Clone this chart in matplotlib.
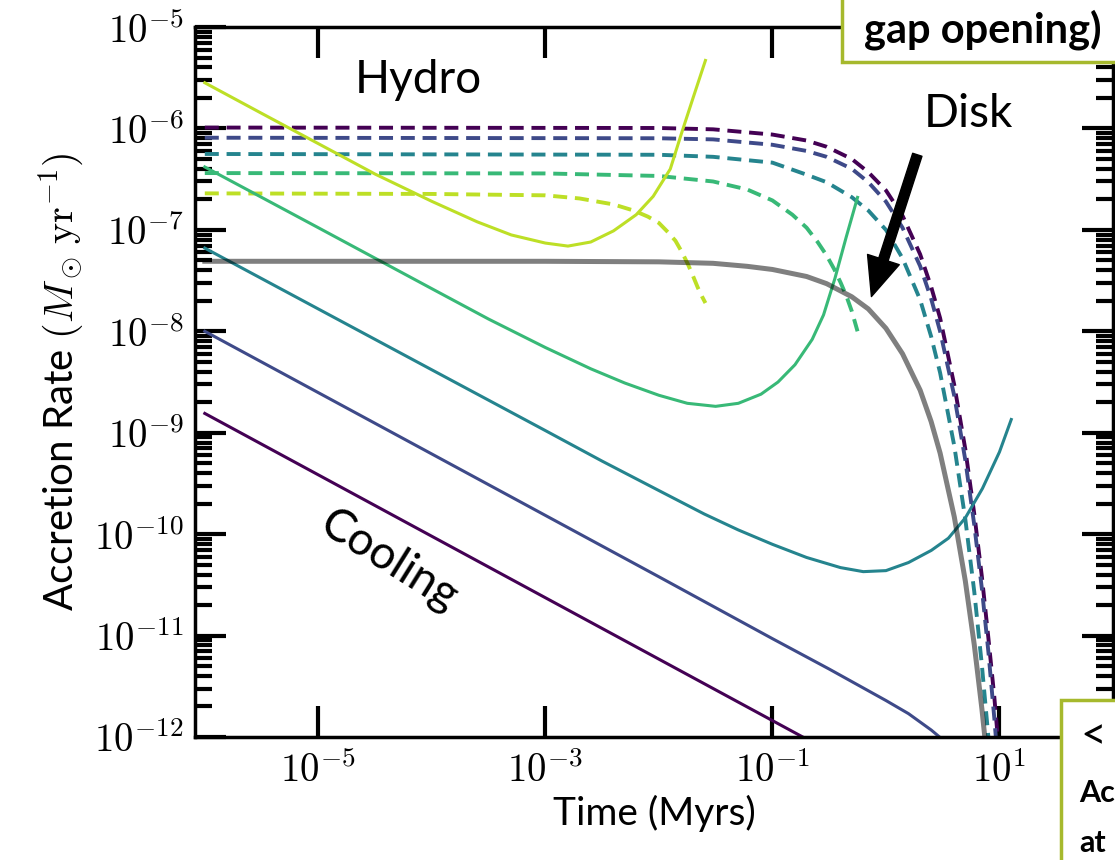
import numpy as np
import matplotlib
matplotlib.use('Agg')
import matplotlib.pyplot as plt
from matplotlib.patches import Rectangle
from matplotlib.ticker import FixedLocator, FuncFormatter, LogLocator, NullLocator

plt.rcParams['font.family'] = ['Lato', 'DejaVu Sans']
plt.rcParams['mathtext.fontset'] = 'cm'

# Solid curves (cooling / hydro limited), time in Myr, rate in Msun/yr
t_purple = [1e-6, 1.0]
m_purple = [1.55e-9, 3.6e-13]

t_blue = [1e-6, 1e-4, 1e-2, 0.1, 0.316, 1.0, 1.58, 2.51, 3.98]
m_blue = [1.0e-8, 6.17e-10, 3.8e-11, 9.33e-12, 4.68e-12, 2.29e-12, 1.70e-12, 1.17e-12, 7.59e-13]

t_teal = [1e-6, 1e-5, 1e-4, 1e-3, 3.16e-3, 1e-2, 2.51e-2, 5.01e-2, 0.1, 0.2, 0.398, 0.631, 1.0, 1.58,
          2.51, 3.55, 5.01, 7.08, 10.0, 12.7]
m_teal = [6.61e-8, 1.66e-8, 4.17e-9, 1.05e-9, 5.25e-10, 2.69e-10, 1.58e-10, 1.10e-10, 7.94e-11, 5.89e-11,
          4.68e-11, 4.27e-11, 4.37e-11, 5.25e-11, 6.92e-11, 9.12e-11, 1.45e-10, 2.82e-10, 6.46e-10, 1.35e-9]

t_green = [1e-6, 1e-5, 1e-4, 3.16e-4, 1e-3, 2.51e-3, 5.01e-3, 1e-2, 1.78e-2, 3.16e-2, 5.01e-2, 7.94e-2,
           0.112, 0.158, 0.224, 0.282, 0.355, 0.447, 0.562]
m_green = [4.17e-7, 1.05e-7, 2.63e-8, 1.32e-8, 6.92e-9, 4.27e-9, 3.09e-9, 2.34e-9, 1.95e-9, 1.82e-9,
           1.95e-9, 2.40e-9, 3.16e-9, 4.68e-9, 8.32e-9, 1.45e-8, 3.31e-8, 8.51e-8, 2.09e-7]

t_yellow = [1e-6, 3.16e-6, 1e-5, 3.16e-5, 1e-4, 2.51e-4, 5.01e-4, 1e-3, 1.58e-3, 2.51e-3, 3.98e-3,
            6.31e-3, 8.91e-3, 1.26e-2, 1.58e-2, 2.0e-2, 2.57e-2]
m_yellow = [2.82e-6, 1.41e-6, 7.08e-7, 3.55e-7, 1.91e-7, 1.20e-7, 8.91e-8, 7.41e-8, 6.92e-8, 7.59e-8,
            9.77e-8, 1.41e-7, 2.14e-7, 3.98e-7, 8.91e-7, 2.0e-6, 4.68e-6]

# Dashed curves (disk limited)
td_purple = [1e-6, 0.01, 0.03, 0.1, 0.2, 0.3, 0.5, 0.7, 1.0, 1.4, 2.0, 2.5, 3.0, 4.0, 5.0, 6.0, 7.0,
             8.0, 9.0, 10.0, 11.0]
md_purple = [1.02e-6, 1.01e-6, 9.8e-7, 8.7e-7, 7.6e-7, 6.6e-7, 5.0e-7, 3.7e-7, 2.45e-7, 1.38e-7, 5.75e-8,
             2.75e-8, 1.35e-8, 2.95e-9, 6.9e-10, 1.58e-10, 3.8e-11, 9.3e-12, 2.5e-12, 6.3e-13, 1.6e-13]

td_blue = [1e-6, 0.01, 0.03, 0.1, 0.2, 0.3, 0.5, 0.7, 1.0, 1.4, 2.0, 2.5, 3.0, 4.0, 5.0, 6.0, 7.0,
           8.0, 9.0, 10.0]
md_blue = [8.1e-7, 8.0e-7, 7.8e-7, 6.9e-7, 6.0e-7, 5.25e-7, 4.0e-7, 2.95e-7, 1.9e-7, 1.05e-7, 4.4e-8,
           2.1e-8, 1.0e-8, 2.3e-9, 5.4e-10, 1.23e-10, 2.9e-11, 6.8e-12, 1.55e-12, 3.6e-13]

td_teal = [1e-6, 0.01, 0.03, 0.1, 0.2, 0.3, 0.5, 0.7, 1.0, 1.4, 2.0, 2.5, 3.0, 4.0, 5.0, 6.0, 7.0,
           8.0, 9.0]
md_teal = [5.6e-7, 5.5e-7, 5.25e-7, 4.6e-7, 3.5e-7, 2.95e-7, 2.1e-7, 1.55e-7, 1.0e-7, 5.25e-8, 2.05e-8,
           8.9e-9, 3.9e-9, 7.4e-10, 1.41e-10, 2.7e-11, 5.1e-12, 9.8e-13, 1.86e-13]

td_green = [1e-6, 1e-3, 0.01, 0.03, 0.06, 0.1, 0.15, 0.2, 0.25, 0.3, 0.35, 0.4, 0.45, 0.5, 0.562]
md_green = [3.63e-7, 3.6e-7, 3.4e-7, 3.0e-7, 2.5e-7, 1.95e-7, 1.41e-7, 1.05e-7, 7.6e-8, 5.6e-8, 4.1e-8,
            3.0e-8, 2.2e-8, 1.58e-8, 1.0e-8]

td_yellow = [1e-6, 1e-4, 1e-3, 2e-3, 4e-3, 6e-3, 8e-3, 1.0e-2, 1.2e-2, 1.4e-2, 1.6e-2, 1.8e-2, 2.0e-2,
             2.2e-2, 2.4e-2, 2.57e-2]
md_yellow = [2.29e-7, 2.26e-7, 2.19e-7, 2.04e-7, 1.78e-7, 1.55e-7, 1.35e-7, 1.17e-7, 9.5e-8, 7.8e-8,
             6.0e-8, 4.6e-8, 3.5e-8, 2.7e-8, 2.2e-8, 1.9e-8]

# Grey reference curve
t_grey = [1e-6, 1e-3, 0.01, 0.03, 0.06, 0.1, 0.2, 0.3, 0.5, 0.7, 1.0, 1.4, 2.0, 2.5, 3.0, 4.0, 5.0,
          6.0, 7.0, 8.0]
m_grey = [4.9e-8, 4.9e-8, 4.84e-8, 4.68e-8, 4.37e-8, 4.07e-8, 3.47e-8, 2.95e-8, 2.19e-8, 1.66e-8,
          1.07e-8, 6.0e-9, 2.63e-9, 1.29e-9, 6.3e-10, 1.48e-10, 3.47e-11, 8.1e-12, 1.9e-12, 4.5e-13]

colors = plt.cm.viridis(np.linspace(0, 0.9, 5))
solid = [(t_purple, m_purple), (t_blue, m_blue), (t_teal, m_teal), (t_green, m_green), (t_yellow, m_yellow)]
dashed = [(td_purple, md_purple), (td_blue, md_blue), (td_teal, md_teal), (td_green, md_green),
          (td_yellow, md_yellow)]

fig = plt.figure(figsize=(11.15, 8.6), dpi=100)
ax = fig.add_axes([0.1749, 0.1430, 0.8233, 0.8256])

for i in range(5):
    ax.plot(dashed[i][0], dashed[i][1], color=colors[i], lw=2.8, ls='--', dashes=(3.6, 2.0))
for i in range(5):
    ax.plot(solid[i][0], solid[i][1], color=colors[i], lw=2.2)
ax.plot(t_grey, m_grey, color='k', alpha=0.5, lw=3.6)

ax.set_xscale('log')
ax.set_yscale('log')
ax.set_xlim(8.2e-7, 1e2)
ax.set_ylim(1e-12, 1e-5)

ax.xaxis.set_major_locator(FixedLocator([1e-5, 1e-3, 1e-1, 1e1]))
ax.xaxis.set_minor_locator(NullLocator())
ax.yaxis.set_major_locator(LogLocator(base=10, numticks=20))
ax.yaxis.set_minor_locator(LogLocator(base=10, subs=np.arange(2, 10), numticks=20))
fmt = FuncFormatter(lambda v, p: r'$10^{%d}$' % round(np.log10(v)))
ax.xaxis.set_major_formatter(fmt)
ax.yaxis.set_major_formatter(fmt)
ax.yaxis.set_minor_formatter(FuncFormatter(lambda v, p: ''))

ax.tick_params(which='major', direction='in', length=22, width=3, top=True, right=True, labelsize=28)
ax.tick_params(axis='x', which='major', pad=10)
ax.tick_params(axis='y', which='major', pad=8)
ax.tick_params(which='minor', direction='in', length=12, width=3, top=True, right=True)
for s in ax.spines.values():
    s.set_linewidth(2.5)

ax.set_xlabel('Time (Myrs)', fontsize=28, labelpad=4)
ax.set_ylabel(r'Accretion Rate $(M_\odot\,{\rm yr}^{-1})$', fontsize=29, labelpad=6)

ax.text(7.6e-5, 3.0e-6, 'Hydro', fontsize=33, ha='center', va='center')
ax.text(5.3, 1.4e-6, 'Disk', fontsize=33, ha='center', va='center')
ax.text(4.2e-5, 5.5e-11, 'Cooling', fontsize=33, rotation=-32, ha='center', va='center',
        rotation_mode='anchor')
ax.annotate('', xy=(0.745, 2.2e-8), xytext=(1.89, 5.5e-7),
            arrowprops=dict(facecolor='black', edgecolor='black', width=7, headwidth=24, headlength=28))

# slide overlay boxes
olive = '#a6b92d'
fig.add_artist(Rectangle((842 / 1115, 1 - 62 / 860), 0.3, 0.2, transform=fig.transFigure,
                         facecolor='white', edgecolor=olive, lw=2.5, zorder=10))
fig.text(864 / 1115, 1 - 30 / 860, 'gap opening)', fontsize=30, fontweight='bold', ha='left', va='center',
         zorder=11)
fig.add_artist(Rectangle((1061 / 1115, -0.1), 0.2, 0.286, transform=fig.transFigure,
                         facecolor='white', edgecolor=olive, lw=2.5, zorder=10))
fig.text(1080 / 1115, 1 - 737 / 860, '<', fontsize=32, ha='left', va='center', zorder=11)
fig.text(1079 / 1115, 1 - 793 / 860, 'Ac', fontsize=22, fontweight='bold', ha='left', va='center', zorder=11)
fig.text(1079 / 1115, 1 - 857 / 860, 'at', fontsize=22, fontweight='bold', ha='left', va='bottom', zorder=11)

fig.savefig('out.png', dpi=100)
